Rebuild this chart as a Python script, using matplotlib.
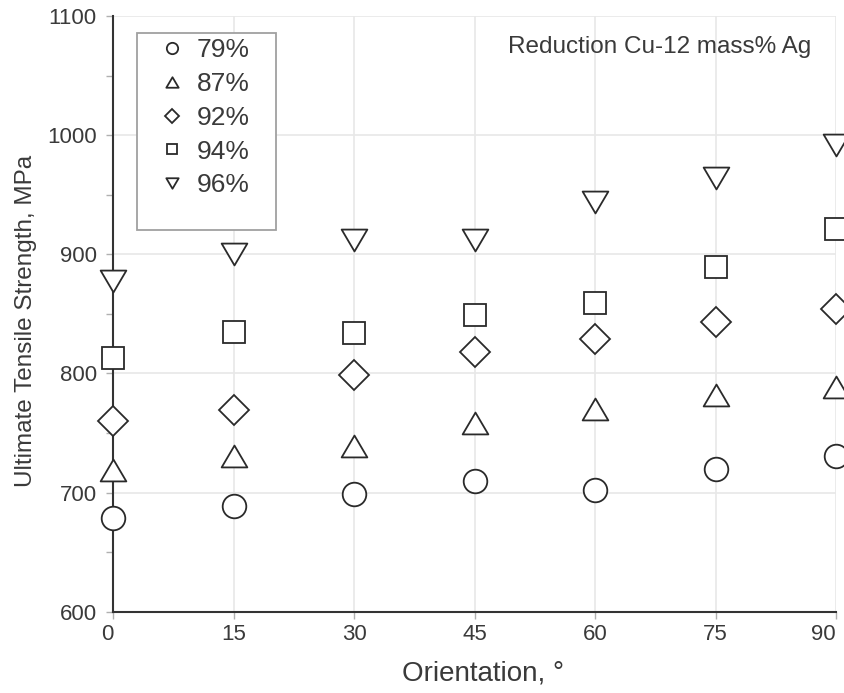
import matplotlib.pyplot as plt
from matplotlib.path import Path
from matplotlib.patches import Rectangle
from matplotlib.ticker import MultipleLocator

plt.rcParams["font.family"] = ["Liberation Sans", "DejaVu Sans"]

orientation = [0, 15, 30, 45, 60, 75, 90]  # degrees
uts_79 = [679, 689, 699, 710, 702, 720, 731]  # MPa
uts_87 = [719, 731, 739, 758, 770, 782, 789]
uts_92 = [760, 769, 799, 818, 829, 843, 854]
uts_94 = [813, 835, 834, 849, 859, 889, 921]
uts_96 = [878, 900, 912, 912, 944, 964, 992]
labels = ["79%", "87%", "92%", "94%", "96%"]

# slightly flattened triangles
tri_up = Path([(0, 0.85), (-1, -0.85), (1, -0.85), (0, 0.85)], closed=True)
tri_down = Path([(0, -0.85), (-1, 0.85), (1, 0.85), (0, -0.85)], closed=True)

series = [
    (uts_79, "o", 17),
    (uts_87, tri_up, 18.5),
    (uts_92, "D", 15),
    (uts_94, "s", 15.5),
    (uts_96, tri_down, 18.5),
]

ink = "#2a2a2a"
text_col = "#3a3a3a"

fig = plt.figure(figsize=(8.45, 6.93), dpi=100)
ax = fig.add_axes([0.1341, 0.1173, 0.8552, 0.8596])

for (vals, mk, ms), lab in zip(series, labels):
    ax.plot(orientation, vals, linestyle="none", marker=mk, markersize=ms,
            markerfacecolor="white", markeredgecolor=ink, markeredgewidth=1.3,
            label=lab, clip_on=False, zorder=4)

ax.set_xlim(0, 90)
ax.set_ylim(600, 1100)
ax.set_xticks(orientation)
ax.yaxis.set_major_locator(MultipleLocator(100))
ax.yaxis.set_minor_locator(MultipleLocator(50))

ax.grid(True, which="major", color="#e8e8e8", linewidth=1.2)
ax.set_axisbelow(True)

for side in ["top", "right"]:
    ax.spines[side].set_visible(False)
for side in ["left", "bottom"]:
    ax.spines[side].set_color("#333333")
    ax.spines[side].set_linewidth(1.5)

ax.tick_params(axis="both", which="both", direction="out", color="#b0b0b0",
               length=5, width=1, labelsize=16, labelcolor=text_col)
ax.tick_params(axis="y", which="major", pad=7)
ax.tick_params(axis="x", which="major", pad=4)

# end labels pulled inward so "90" stays on the canvas
xticks = ax.xaxis.get_major_ticks()
xticks[0].label1.set_horizontalalignment("right")
xticks[-1].label1.set_horizontalalignment("right")

ax.set_xlabel("Orientation, °", fontsize=20, color=text_col, labelpad=11, x=0.512)
ax.set_ylabel("Ultimate Tensile Strength, MPa", fontsize=17.5, color=text_col,
              labelpad=7, y=0.488)

ax.text(0.546, 0.9374, "Reduction Cu-12 mass% Ag", transform=ax.transAxes,
        fontsize=17.5, color=text_col, ha="left", va="baseline")

# legend box drawn separately for tighter control of padding
box = Rectangle((0.0328, 0.6408), 0.1923, 0.3307, transform=ax.transAxes,
                facecolor="white", edgecolor="#a0a0a0", linewidth=1.3, zorder=5)
ax.add_patch(box)
leg = ax.legend(loc="upper left", bbox_to_anchor=(0.0625, 0.9626), frameon=False,
                borderaxespad=0, borderpad=0, handlelength=1.0, handletextpad=0.45,
                labelspacing=0.37, markerscale=0.48, fontsize=19)
leg.set_zorder(6)
for t in leg.get_texts():
    t.set_color(text_col)

fig.savefig("out.png", dpi=100)
